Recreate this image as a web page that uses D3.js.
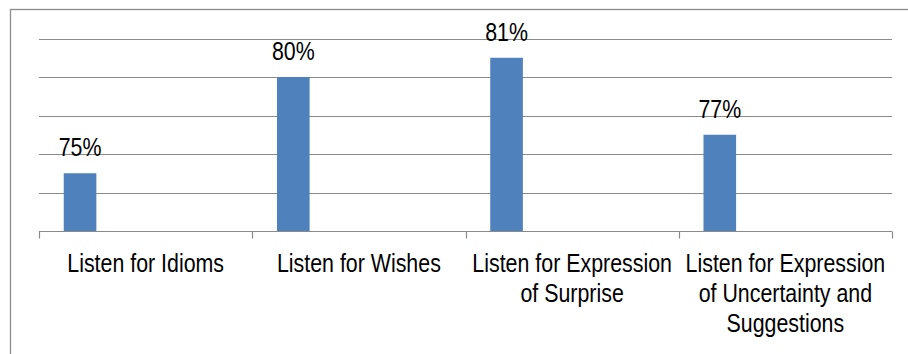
<!DOCTYPE html>
<html><head><meta charset="utf-8">
<script src="https://cdn.jsdelivr.net/npm/d3@7"></script>
<style>
html,body{margin:0;padding:0;background:#fff;}
svg text{font-family:"Liberation Sans",Arial,sans-serif;fill:#000;}
</style></head>
<body><svg id="c" width="908" height="354"></svg>
<script>
const categories = ["Listen for Idioms","Listen for Wishes","Listen for Expression of Surprise","Listen for Expression of Uncertainty and Suggestions"];
const categoryLines = [["Listen for Idioms"],["Listen for Wishes"],["Listen for Expression","of Surprise"],["Listen for Expression","of Uncertainty and","Suggestions"]];
const values = [75,80,81,77];
const valueLabels = ["75%","80%","81%","77%"];
const yTicks = [72,74,76,78,80,82];

const SX = 0.855, FS = 25;
const svg = d3.select("#c");
svg.append("rect").attr("x",10.5).attr("y",9.5).attr("width",1000).attr("height",400)
  .attr("fill","none").attr("stroke","#8c8c8c").attr("stroke-width",1.3);

const x = d3.scaleBand().domain(categories).range([39,892]).padding(0);
const y = d3.scaleLinear().domain([72,82]).range([231,38.5]);
const bw = x.bandwidth();

svg.append("g").selectAll("line").data(yTicks.slice(1)).join("line")
  .attr("x1",39).attr("x2",892)
  .attr("y1",d=>Math.round(y(d))+0.5).attr("y2",d=>Math.round(y(d))+0.5)
  .attr("stroke","#8a8a8a").attr("stroke-width",1.2);

svg.append("g").selectAll("rect").data(values).join("rect")
  .attr("x",(d,i)=>x(categories[i])+bw*0.116)
  .attr("width",bw*0.153)
  .attr("y",d=>y(d))
  .attr("height",d=>y(72)-y(d))
  .attr("fill","#4f81bd");

const axG = svg.append("g").attr("transform",`translate(0,${Math.round(y(72))+0.5})`);
axG.append("line").attr("x1",39).attr("x2",892).attr("stroke","#8a8a8a").attr("stroke-width",1.2);
const bounds = categories.map(c=>x(c)).concat([892]);
axG.selectAll("line.tk").data(bounds).join("line").attr("class","tk")
  .attr("x1",d=>Math.round(d)+0.5).attr("x2",d=>Math.round(d)+0.5).attr("y1",0).attr("y2",7)
  .attr("stroke","#8a8a8a").attr("stroke-width",1.2);

categoryLines.forEach((lines,i)=>{
  lines.forEach((l,j)=>{
    svg.append("g").attr("transform",`translate(${x(categories[i])+bw/2},${272+j*30}) scale(${SX},1)`)
      .append("text").attr("text-anchor","middle").attr("font-size",FS).text(l);
  });
});

values.forEach((d,i)=>{
  svg.append("g").attr("transform",`translate(${x(categories[i])+bw*0.116+bw*0.153/2},${y(d)-17}) scale(${SX},1)`)
    .append("text").attr("text-anchor","middle").attr("font-size",FS).text(valueLabels[i]);
});
</script></body></html>
